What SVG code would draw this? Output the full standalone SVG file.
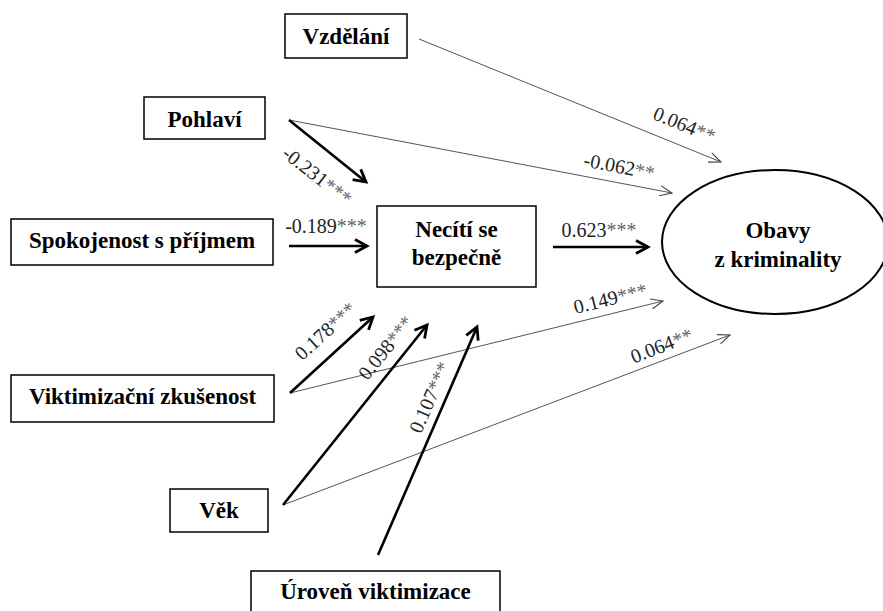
<svg xmlns="http://www.w3.org/2000/svg" width="883" height="611" viewBox="0 0 883 611">
  <style>
    .box { fill: #fff; stroke: #000; stroke-width: 1.5; }
    .name { font-family: 'Liberation Serif', 'DejaVu Serif', serif; font-weight: 700; font-size: 23px; fill: #000; text-anchor: middle; }
    .thin { stroke: #555; stroke-width: 1; fill: none; marker-end: url(#headThin); }
    .thick { stroke: #000; stroke-width: 2.6; fill: none; marker-end: url(#headThick); }
    .coef { font-family: 'Liberation Serif', 'DejaVu Serif', serif; font-size: 20px; fill: #222; text-anchor: middle; }
    .star { fill: #666; }
  </style>
  <defs>
    <marker id="headThin" viewBox="0 0 14 12" refX="13" refY="6" markerWidth="14" markerHeight="12" orient="auto" markerUnits="userSpaceOnUse">
      <path d="M1,1 L13,6 L1,11" fill="none" stroke="#444" stroke-width="1.1"/>
    </marker>
    <marker id="headThick" viewBox="0 0 18 18" refX="15" refY="9" markerWidth="18" markerHeight="18" orient="auto" markerUnits="userSpaceOnUse">
      <path d="M3,2.5 L15,9 L3,15.5" fill="none" stroke="#000" stroke-width="2.8" stroke-linejoin="miter"/>
    </marker>
  </defs>

  <rect width="883" height="611" fill="#fff"/>

  <!-- paths between variables -->
  <g id="connectors">
    <line class="thin" x1="419" y1="39" x2="721" y2="162"/>
    <line class="thin" x1="289" y1="120" x2="672" y2="193"/>
    <line class="thick" x1="289" y1="120" x2="366" y2="182"/>
    <line class="thick" x1="289" y1="246" x2="367" y2="246"/>
    <line class="thick" x1="553" y1="247" x2="648" y2="247"/>
    <line class="thin" x1="290" y1="393" x2="663" y2="301"/>
    <line class="thick" x1="290" y1="393" x2="373" y2="317"/>
    <line class="thin" x1="283" y1="505" x2="730" y2="335"/>
    <line class="thick" x1="283" y1="505" x2="427" y2="325"/>
    <line class="thick" x1="378" y1="555" x2="477" y2="327"/>

    <!-- path coefficients -->
    <text class="coef" transform="translate(682,131) rotate(22)">0.064<tspan class="star">**</tspan></text>
    <text class="coef" transform="translate(618,173) rotate(11)">-0.062<tspan class="star">**</tspan></text>
    <text class="coef" transform="translate(313,181) rotate(38)">-0.231<tspan class="star">***</tspan></text>
    <text class="coef" x="326" y="233">-0.189<tspan class="star">***</tspan></text>
    <text class="coef" x="599" y="237">0.623<tspan class="star">***</tspan></text>
    <text class="coef" transform="translate(330,336) rotate(-42.5)">0.178<tspan class="star">***</tspan></text>
    <text class="coef" transform="translate(391,352) rotate(-51.3)">0.098<tspan class="star">***</tspan></text>
    <text class="coef" transform="translate(436,400) rotate(-66.5)">0.107<tspan class="star">***</tspan></text>
    <text class="coef" transform="translate(612,305) rotate(-13.9)">0.149<tspan class="star">***</tspan></text>
    <text class="coef" transform="translate(664,352) rotate(-21)">0.064<tspan class="star">**</tspan></text>
  </g>

  <g id="vzdelani">
    <rect class="box" x="285" y="14" width="122" height="44"/>
    <text class="name" x="346" y="43.5">Vzdělání</text>
  </g>
  <g id="pohlavi">
    <rect class="box" x="144" y="97" width="121" height="42"/>
    <text class="name" x="204.5" y="127">Pohlaví</text>
  </g>
  <g id="spokojenost">
    <rect class="box" x="11" y="219" width="262" height="46"/>
    <text class="name" x="142" y="248">Spokojenost s příjmem</text>
  </g>
  <g id="neciti">
    <rect class="box" x="377" y="206" width="159" height="81"/>
    <text class="name" x="456.5" y="237">Necítí se</text>
    <text class="name" x="456.5" y="265">bezpečně</text>
  </g>
  <g id="viktimizacni">
    <rect class="box" x="11" y="375" width="263" height="47"/>
    <text class="name" x="142.5" y="404">Viktimizační zkušenost</text>
  </g>
  <g id="vek">
    <rect class="box" x="170" y="489" width="98" height="43"/>
    <text class="name" x="219" y="518">Věk</text>
  </g>
  <g id="uroven">
    <rect class="box" x="251" y="571" width="249" height="52"/>
    <text class="name" x="375.5" y="599">Úroveň viktimizace</text>
  </g>
  <g id="obavy">
    <ellipse cx="775" cy="242" rx="113" ry="72" fill="#fff" stroke="#000" stroke-width="2"/>
    <text class="name" x="778" y="238">Obavy</text>
    <text class="name" x="778" y="267">z kriminality</text>
  </g>
</svg>
